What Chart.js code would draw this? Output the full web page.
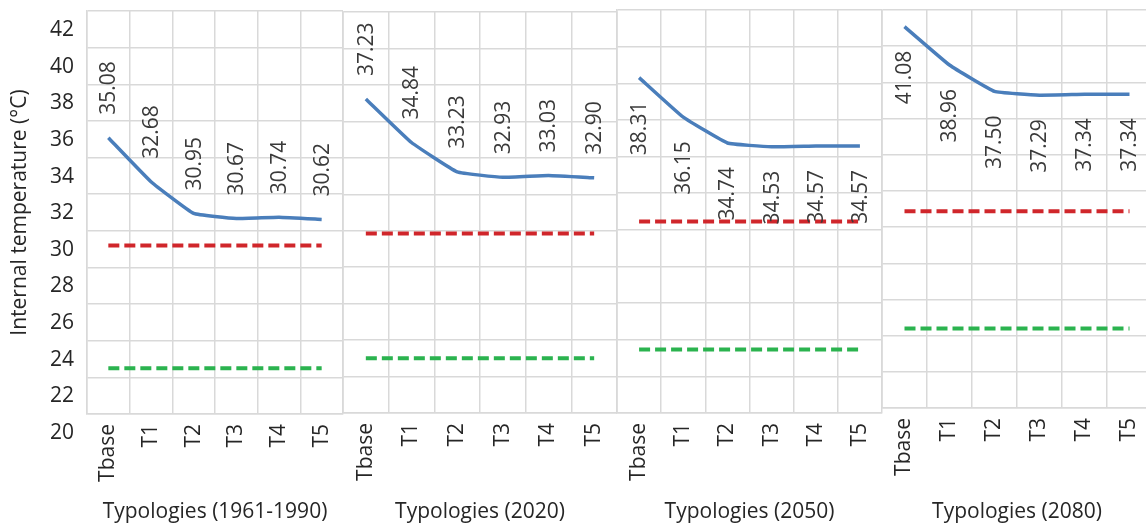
<!DOCTYPE html>
<html>
<head>
<meta charset="utf-8">
<script src="https://cdn.jsdelivr.net/npm/chart.js@4"></script>
<style>
    html, body { margin: 0; padding: 0; background: #fff; overflow: hidden; width: 1146px; height: 527px; }
    .panel { position: absolute; }
</style>
</head>
<body>
<div class="panel" id="p0"><canvas id="c0"></canvas></div>
<div class="panel" id="p1"><canvas id="c1"></canvas></div>
<div class="panel" id="p2"><canvas id="c2"></canvas></div>
<div class="panel" id="p3"><canvas id="c3"></canvas></div>
<script>
// Chart data
var typologies = ['Tbase', 'T1', 'T2', 'T3', 'T4', 'T5'];
var periods = ['1961-1990', '2020', '2050', '2080'];

var temp1961 = [35.08, 32.68, 30.95, 30.67, 30.74, 30.62];
var temp2020 = [37.23, 34.84, 33.23, 32.93, 33.03, 32.90];
var temp2050 = [38.31, 36.15, 34.74, 34.53, 34.57, 34.57];
var temp2080 = [41.08, 38.96, 37.50, 37.29, 37.34, 37.34];

// comfort limits per period (dashed lines)
var upperLimit = [29.2, 29.85, 30.45, 30.88];
var lowerLimit = [22.5, 23.0, 23.47, 24.4];

var yTicks = [20, 42];

// Panel placement on the page (plot area edges)
var panels = [
    { left: 87,  right: 343,  top: 11, bottom: 414, side: 'above' },
    { left: 343, right: 617,  top: 12, bottom: 413, side: 'above' },
    { left: 617, right: 882,  top: 10, bottom: 413, side: 'below' },
    { left: 882, right: 1152, top: 10, bottom: 408, side: 'below' }
];

var temps = [temp1961, temp2020, temp2050, temp2080];
var gridColor = '#d9d9d9';
var textColor = '#262626';
var axisFont = { family: 'Open Sans', size: 21 };

// Rotated value labels next to each point of the main series
var pointLabels = {
    id: 'pointLabels',
    afterDatasetsDraw: function(chart, args, opts) {
        var ctx = chart.ctx;
        var meta = chart.getDatasetMeta(0);
        var values = chart.data.datasets[0].data;
        meta.data.forEach(function(pt, i) {
            ctx.save();
            ctx.font = '21px "Open Sans"';
            ctx.fillStyle = '#3a3a3a';
            ctx.textBaseline = 'middle';
            ctx.translate(pt.x + 1, opts.side === 'above' ? pt.y - 23 : pt.y + 24);
            ctx.rotate(-Math.PI / 2);
            ctx.textAlign = opts.side === 'above' ? 'left' : 'right';
            ctx.fillText(values[i].toFixed(2), 0, 0);
            ctx.restore();
        });
    }
};

// drop the automatic label padding so the plot box sits where we put it
function noPadding(s) {
    s.paddingLeft = 0;
    s.paddingRight = 0;
    s.paddingTop = 0;
    s.paddingBottom = 0;
}

function drawPanel(i) {
    var g = panels[i];
    var first = i === 0;
    var boxLeft = first ? 0 : g.left - 3;
    var boxTop = g.top - 5;

    var box = document.getElementById('p' + i);
    box.style.left = boxLeft + 'px';
    box.style.top = boxTop + 'px';
    box.style.width = (g.right + 3 - boxLeft) + 'px';
    box.style.height = (527 - boxTop) + 'px';

    var flat = function(v) { return typologies.map(function() { return v; }); };

    new Chart(document.getElementById('c' + i), {
        type: 'line',
        data: {
            labels: typologies,
            datasets: [{
                data: temps[i],
                borderColor: '#4a7ebb',
                borderWidth: 3.5,
                pointRadius: 0,
                tension: 0.1
            }, {
                data: flat(upperLimit[i]),
                borderColor: '#d0262b',
                borderWidth: 4,
                borderDash: [11, 5],
                pointRadius: 0
            }, {
                data: flat(lowerLimit[i]),
                borderColor: '#2bb34f',
                borderWidth: 4,
                borderDash: [11, 5],
                pointRadius: 0
            }]
        },
        plugins: [pointLabels],
        options: {
            responsive: true,
            maintainAspectRatio: false,
            animation: false,
            layout: { autoPadding: false, padding: { left: first ? 0 : 3, right: 3, top: 5, bottom: 0 } },
            plugins: {
                legend: { display: false },
                tooltip: { enabled: false },
                pointLabels: { side: g.side }
            },
            scales: {
                x: {
                    offset: true,
                    grid: { offset: true, color: gridColor, lineWidth: 1.5, drawTicks: false },
                    border: { color: gridColor, width: 1.5 },
                    ticks: { minRotation: 90, maxRotation: 90, autoSkip: false, padding: 10, color: textColor, font: axisFont },
                    title: { display: true, text: 'Typologies (' + periods[i] + ')', color: textColor, font: axisFont, padding: { top: 0, bottom: 2 } },
                    afterFit: function(s) { s.height = 527 - g.bottom; noPadding(s); }
                },
                y: {
                    min: yTicks[0],
                    max: yTicks[1],
                    grid: { color: gridColor, lineWidth: 1.5, drawTicks: false },
                    border: { color: gridColor, width: 1.5 },
                    ticks: { display: first, stepSize: 2, autoSkip: false, padding: 13, labelOffset: 19, color: textColor, font: axisFont },
                    title: { display: first, text: 'Internal temperature (°C)', color: textColor, font: axisFont, padding: { top: 7, bottom: 0 } },
                    afterFit: function(s) { s.width = first ? 87 : 0; noPadding(s); }
                }
            }
        }
    });
}

for (var i = 0; i < panels.length; i++) {
    drawPanel(i);
}
</script>
</body>
</html>
